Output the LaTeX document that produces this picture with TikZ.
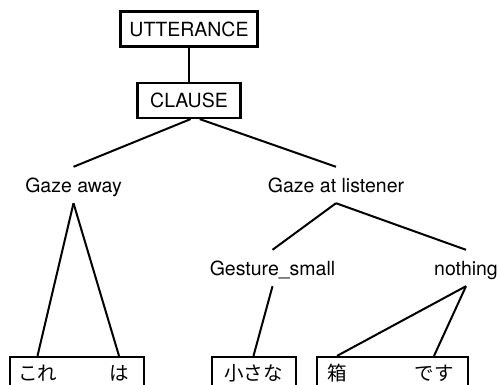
\documentclass[tikz,border=0pt]{standalone}
\usepackage{fontspec}
\setmainfont{TeX Gyre Heros}
\newfontfamily\jpfont{Noto Sans CJK JP}
\usetikzlibrary{positioning}
\tikzstyle{Line} = [line width=2pt]

\begin{document}
\begin{tikzpicture}[x=1pt, y=-1pt,
	font=\fontsize{19.5}{23}\selectfont,
	cbox/.style={draw, line width=2.2pt,
		inner sep=0pt,
		minimum height=35pt
		},
	tag/.style={inner sep=0pt,
		text height=14pt, text depth=0pt,
		minimum height=36pt
		},
	word/.style={inner sep=0pt, anchor=base, font=\fontsize{19.5}{23}\jpfont}
]
 \clip (0,0) rectangle (500,385);

 \node [cbox, minimum width=137pt] (utt) at (189,29) {UTTERANCE};
 \node [cbox, minimum width=103pt] (cl) at (189,100.5) {CLAUSE};

 \node [tag] (away) at (73.5,185) {Gaze away};
 \node [tag] (listen) at (336,185) {Gaze at listener};
 \node [tag] (gest) at (272.5,268) {Gesture\_small};
 \node [tag] (none) at (466,268) {nothing};

 % word boxes along the bottom
 \node [cbox, minimum width=134pt] (b1) at (77,374.5) {};
 \node [cbox, minimum width=84pt] (b2) at (254,374.5) {};
 \node [cbox, minimum width=151pt] (b3) at (392.5,374.5) {};

 \node [word] (kore) at (37.5,380) {これ};
 \node [word] (ha) at (119,380) {は};
 \node [word] (chii) at (253.5,380) {小さな};
 \node [word] (hako) at (337,380) {箱};
 \node [word] (desu) at (434,380) {です};

 \draw[Line] (utt) -- (cl);
 \draw[Line] (cl.-85) -- (away.north);
 \draw[Line] (cl.-60) -- (listen.north);

 \draw[Line] (away.south) -- (kore.north |- b1.north);
 \draw[Line] (away.south) -- (ha.north |- b1.north);

 \draw[Line] (listen.south) -- (gest.north);
 \draw[Line] (listen.south) -- (none.north);

 \draw[Line] (gest.south) -- (chii.north |- b2.north);
 \draw[Line] (none.south) -- (hako.north |- b3.north);
 \draw[Line] (none.south) -- (desu.north |- b3.north);

\end{tikzpicture}
\end{document}
